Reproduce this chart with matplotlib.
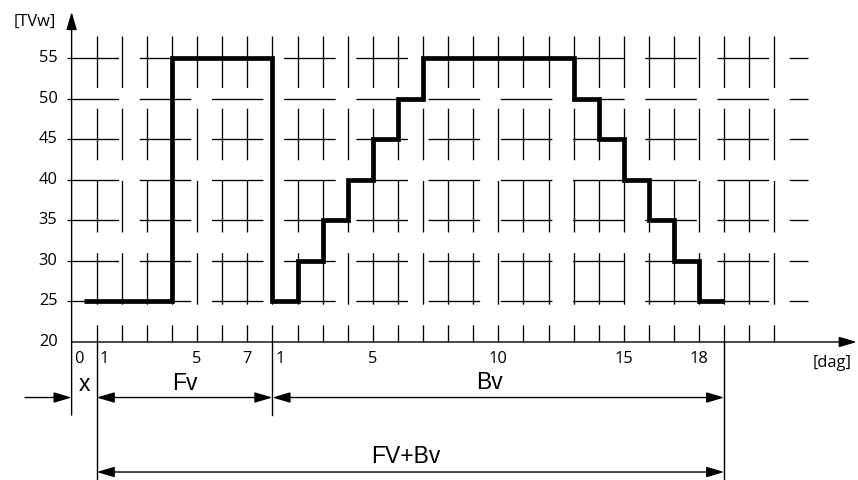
"""
Step schedule drawing: TVw per day over the x / Fv / Bv periods
"""

import numpy as np
import matplotlib.pyplot as plt
from matplotlib.patches import FancyArrowPatch

plt.rcParams['lines.scale_dashes'] = False

# ============================================================================
# Data
# ============================================================================

X_VALUES = [25]                                   # short x period before Fv day 1
FV_VALUES = [25, 25, 25, 55, 55, 55, 55]          # Fv days 1..7
BV_VALUES = [25, 30, 35, 40, 45, 50, 55, 55, 55,  # Bv days 1..18
             55, 55, 55, 50, 45, 40, 35, 30, 25]

Y_TICKS = [20, 25, 30, 35, 40, 45, 50, 55]
FV_TICK_LABELS = [0, 1, 5, 7]
BV_TICK_LABELS = [1, 5, 10, 15, 18]

# ============================================================================
# Layout (day units on x, TVw on y)
# ============================================================================

N_FV = len(FV_VALUES)
N_BV = len(BV_VALUES)
G_END = N_FV + N_BV + 1          # end of Bv
N_GRID = G_END + 2               # last vertical grid line

XLIM = (-2.853, 31.33)
YLIM = (2.975, 62.19)

DASH = (0, (37.1, 14.9))
LW_GRID = 0.95
LW_AXIS = 1.0
ARROW = '-|>,head_length=10.8,head_width=3.2'
ARROW2 = '<|-|>,head_length=10.8,head_width=3.2'

TICK_FONT = 'Open Sans'
LABEL_FONT = 'Liberation Sans'
TICK_SIZE = 11.8
LABEL_SIZE = 16.5


def arrow(ax, p0, p1, style):
    a = FancyArrowPatch(p0, p1, arrowstyle=style, mutation_scale=1,
                        shrinkA=0, shrinkB=0, color='black', lw=LW_AXIS,
                        clip_on=False)
    ax.add_patch(a)


def create_chart():
    fig = plt.figure(figsize=(8.58, 4.8), dpi=100)
    ax = fig.add_axes([0, 0, 1, 1])
    ax.set_xlim(*XLIM)
    ax.set_ylim(*YLIM)
    ax.axis('off')

    # dashed grid
    for v in Y_TICKS[1:]:
        ax.plot([-0.183, 29.34], [v, v], color='black', lw=LW_GRID,
                linestyle=DASH, zorder=1)
    for g in range(1, N_GRID + 1):
        ax.plot([g, g], [57.75, 20], color='black', lw=LW_GRID,
                linestyle=DASH, zorder=1)

    # axes with arrows
    arrow(ax, (0, 20), (31.28, 20), ARROW)
    arrow(ax, (0, 10.99), (0, 60.71), ARROW)

    # extension lines below the axis
    ax.plot([1, 1], [20, 2.0], color='black', lw=LW_AXIS, clip_on=False)
    ax.plot([N_FV + 1, N_FV + 1], [20, 10.99], color='black', lw=LW_AXIS)
    ax.plot([G_END, G_END], [20, 2.0], color='black', lw=LW_AXIS, clip_on=False)

    # step line
    values = X_VALUES + FV_VALUES + BV_VALUES
    edges = np.concatenate([[0.5], np.arange(1, G_END + 1)])
    ax.stairs(values, edges, baseline=None, color='black', lw=3.4, zorder=5)

    # y tick labels
    for v in Y_TICKS:
        ax.text(-0.56, v, str(v), ha='right', va='center',
                fontsize=TICK_SIZE, family=TICK_FONT)
    ax.text(-1.46, 59.5, '[TVw]', ha='center', va='center',
            fontsize=TICK_SIZE, family=TICK_FONT)

    # x tick labels (labels on boundary lines sit just right of them)
    boundaries = {0, 1, N_FV + 1}
    fv_pos = [d for d in FV_TICK_LABELS]
    bv_pos = [N_FV + d for d in BV_TICK_LABELS]
    for lab, g in zip(FV_TICK_LABELS + BV_TICK_LABELS, fv_pos + bv_pos):
        off = 0.3 if g in boundaries else 0.0
        ax.text(g + off, 17.9, str(lab), ha='center', va='center',
                fontsize=TICK_SIZE, family=TICK_FONT)
    ax.text(30.3, 17.45, '[dag]', ha='center', va='center',
            fontsize=TICK_SIZE, family=TICK_FONT)

    # dimension arrows
    arrow(ax, (-1.857, 13.15), (0, 13.15), ARROW)
    arrow(ax, (1, 13.15), (N_FV + 1, 13.15), ARROW2)
    arrow(ax, (N_FV + 1, 13.15), (G_END, 13.15), ARROW2)
    arrow(ax, (1, 3.96), (G_END, 3.96), ARROW2)

    ax.text(0.53, 14.8, 'x', ha='center', va='center', fontsize=LABEL_SIZE, family=LABEL_FONT)
    ax.text(4.52, 14.94, 'Fv', ha='center', va='center', fontsize=LABEL_SIZE, family=LABEL_FONT)
    ax.text(16.63, 15.06, 'Bv', ha='center', va='center', fontsize=LABEL_SIZE, family=LABEL_FONT)
    ax.text(13.32, 5.87, 'FV+Bv', ha='center', va='center', fontsize=LABEL_SIZE, family=LABEL_FONT)

    fig.savefig('out.png', dpi=100)
    plt.close(fig)


if __name__ == '__main__':
    create_chart()
